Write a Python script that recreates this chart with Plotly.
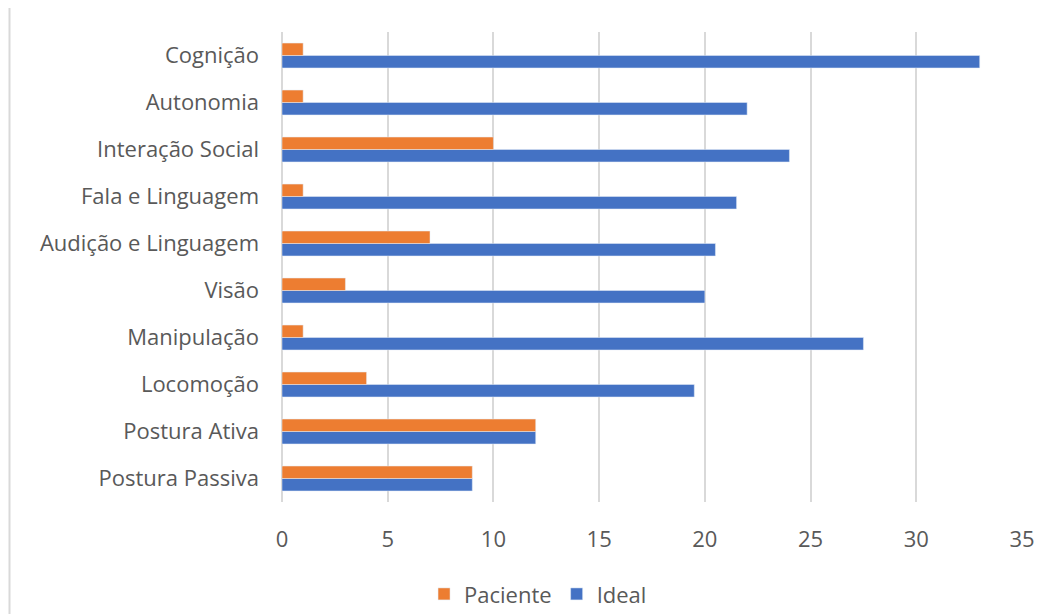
import plotly.graph_objects as go

categories = ["Postura Passiva", "Postura Ativa", "Locomoção", "Manipulação", "Visão",
              "Audição e Linguagem", "Fala e Linguagem", "Interação Social", "Autonomia", "Cognição"]
paciente = [9, 12, 4, 1, 3, 7, 1, 10, 1, 1]
ideal = [9, 12, 19.5, 27.5, 20, 20.5, 21.5, 24, 22, 33]
x_ticks = [0, 5, 10, 15, 20, 25, 30, 35]

fig = go.Figure()
fig.add_trace(go.Bar(y=categories, x=ideal, name="Ideal", orientation="h",
                     marker=dict(color="#4472C4"), legendrank=2))
fig.add_trace(go.Bar(y=categories, x=paciente, name="Paciente", orientation="h",
                     marker=dict(color="#ED7D31"), legendrank=1))

font_family = "Open Sans, Noto Sans, sans-serif"
fig.update_layout(
    width=1053, height=614,
    margin=dict(l=282, r=31, t=32, b=112, autoexpand=False),
    barmode="group", bargap=0.47, bargroupgap=0,
    plot_bgcolor="white", paper_bgcolor="white",
    font=dict(family=font_family, size=22, color="#595959"),
    showlegend=True,
    legend=dict(orientation="h", x=0.346, xanchor="center", y=-0.196, yanchor="middle",
                font=dict(size=22, color="#595959")),
    xaxis=dict(range=[0, 35], tickvals=x_ticks, showgrid=True, gridcolor="#D9D9D9",
               gridwidth=2, zeroline=True, zerolinecolor="#D9D9D9", zerolinewidth=2,
               showline=False, ticklabelstandoff=22, automargin=False),
    yaxis=dict(showgrid=False, ticklabelstandoff=22, showline=False, automargin=False),
    shapes=[dict(type="line", xref="paper", yref="paper",
                 x0=(9.5 - 282) / 740, x1=(9.5 - 282) / 740,
                 y0=(502 - 8) / 470, y1=(502 - 620) / 470,
                 line=dict(color="#D9D9D9", width=2))],
)

fig.write_html("out.html")
